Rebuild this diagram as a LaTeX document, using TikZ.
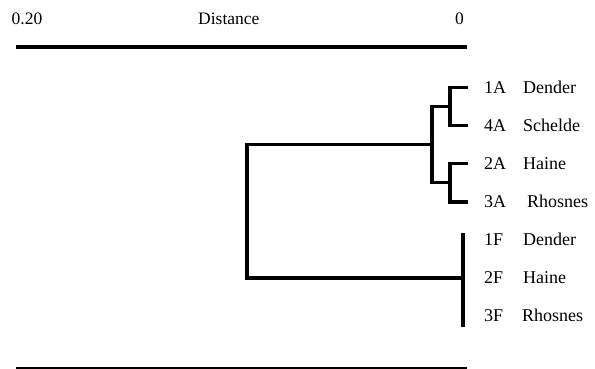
\documentclass[tikz,border=0pt]{standalone}
\usepackage{fontspec}
\setmainfont{Liberation Serif}
\begin{document}
\begin{tikzpicture}[x=1pt,y=-1pt,
  lbl/.style={anchor=base west, inner sep=0pt, font=\fontsize{18}{21}\selectfont},
  scalelbl/.style={anchor=base west, inner sep=0pt, font=\fontsize{17.5}{20}\selectfont},
  branch/.style={line width=3.2pt, line join=miter},
  axis/.style={line width=3.2pt}]
\fill[white] (0,0) rectangle (595,369);
\useasboundingbox (0,0) rectangle (595,369);

% distance scale
\coordinate (axL) at (16,47);
\coordinate (axR) at (467,47);
\draw[axis] (axL) -- (axR);
\node[scalelbl] (lmax) at (11.5,25) {0.20};
\node[scalelbl] (ltitle) at (198,25) {Distance};
\node[scalelbl] (lzero) at (455,25) {0};

% bottom rule
\coordinate (bL) at (16,368);
\coordinate (bR) at (467,368);
\draw[line width=2.2pt] (bL) -- (bR);

% leaves: tip coordinates and labels
\foreach \id/\y/\code/\name/\nx in {
  a1/87.5/1A/Dender/523, a4/125.5/4A/Schelde/523,
  a2/163.5/2A/Haine/523, a3/202/3A/Rhosnes/527,
  f1/240/1F/Dender/523, f2/278/2F/Haine/523, f3/316/3F/Rhosnes/522}{
  \coordinate (leaf-\id) at (468,\y);
  \node[lbl] (code-\id) at (484,\y+5.8) {\code};
  \node[lbl] (name-\id) at (\nx,\y+5.8) {\name};
}

% A cluster
\draw[branch] (leaf-a1) -- (450,87.5) |- (leaf-a4);
\draw[branch] (leaf-a2) -- (450,163.5) |- (leaf-a3);
\coordinate (jA1) at (450,106.5);
\coordinate (jA2) at (450,182.75);
\draw[branch] (jA1) -- (432,106.5) |- (jA2);

% F cluster (zero distance)
\coordinate (fTop) at (463,233);
\coordinate (fBot) at (463,327);
\draw[branch] (fTop) -- (fBot);

% root join
\coordinate (jA) at (432,144.6);
\coordinate (jF) at (463,278);
\draw[branch] (jA) -- (247,144.6) |- (jF);
\end{tikzpicture}
\end{document}
